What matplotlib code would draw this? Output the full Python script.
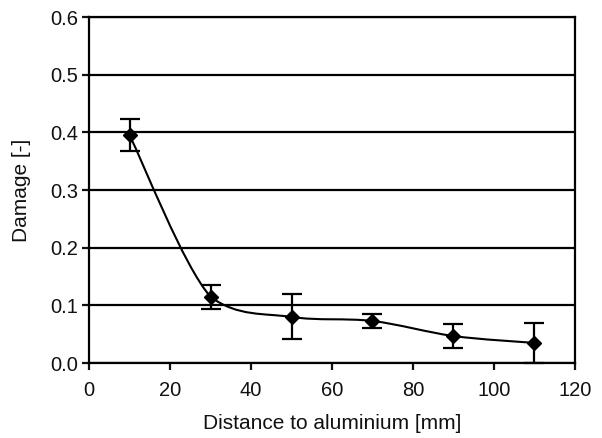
import numpy as np
import matplotlib
matplotlib.use('Agg')
import matplotlib.pyplot as plt
from matplotlib.path import Path
from matplotlib.patches import PathPatch

plt.rcParams['font.family'] = ['Liberation Sans', 'DejaVu Sans']

distance = [10, 30, 50, 70, 90, 110]
damage = [0.395, 0.115, 0.080, 0.073, 0.047, 0.035]
damage_err = [0.028, 0.021, 0.039, 0.012, 0.020, 0.035]

x_ticks = [0, 20, 40, 60, 80, 100, 120]
y_ticks = [0.0, 0.1, 0.2, 0.3, 0.4, 0.5, 0.6]


def smooth_path(xs, ys):
    # Bezier through the points, like a spreadsheet "smoothed line"
    pts = np.column_stack([xs, ys]).astype(float)
    n = len(pts)
    verts = [pts[0]]
    codes = [Path.MOVETO]
    for i in range(n - 1):
        p0 = pts[max(i - 1, 0)]
        p1 = pts[i]
        p2 = pts[i + 1]
        p3 = pts[min(i + 2, n - 1)]
        c1 = p1 + (p2 - p0) / 6
        c2 = p2 - (p3 - p1) / 6
        lo, hi = min(p1[1], p2[1]), max(p1[1], p2[1])
        c1[1] = np.clip(c1[1], lo, hi)
        c2[1] = np.clip(c2[1], lo, hi)
        verts += [c1, c2, p2]
        codes += [Path.CURVE4] * 3
    return Path(verts, codes)


fig = plt.figure(figsize=(6.02, 4.38), dpi=100)
ax = fig.add_axes([0.148, 0.171, 0.807, 0.790])

ax.set_xlim(0, 120)
ax.set_ylim(0, 0.6)
ax.set_xticks(x_ticks)
ax.set_yticks(y_ticks)
ax.set_yticklabels([f'{v:.1f}' for v in y_ticks])

ax.yaxis.grid(True, color='black', linewidth=1.6)
ax.set_axisbelow(True)

ax.add_patch(PathPatch(smooth_path(distance, damage), transform=ax.transData,
                       facecolor='none', edgecolor='black', linewidth=1.5))
ax.errorbar(distance, damage, yerr=damage_err, fmt='D', color='black',
            markersize=7.5, ecolor='black', elinewidth=1.6, capsize=7,
            capthick=1.6, clip_on=False, zorder=3)

for s in ax.spines.values():
    s.set_linewidth(1.6)
ax.tick_params(direction='out', length=5, width=1.6, labelsize=14.5,
               colors='#111111', pad=3)
ax.tick_params(axis='x', pad=8)

ax.set_xlabel('Distance to aluminium [mm]', fontsize=15, labelpad=10,
              color='#111111')
ax.set_ylabel('Damage [-]', fontsize=15, labelpad=14, color='#111111')

fig.savefig('out.png', dpi=100)
